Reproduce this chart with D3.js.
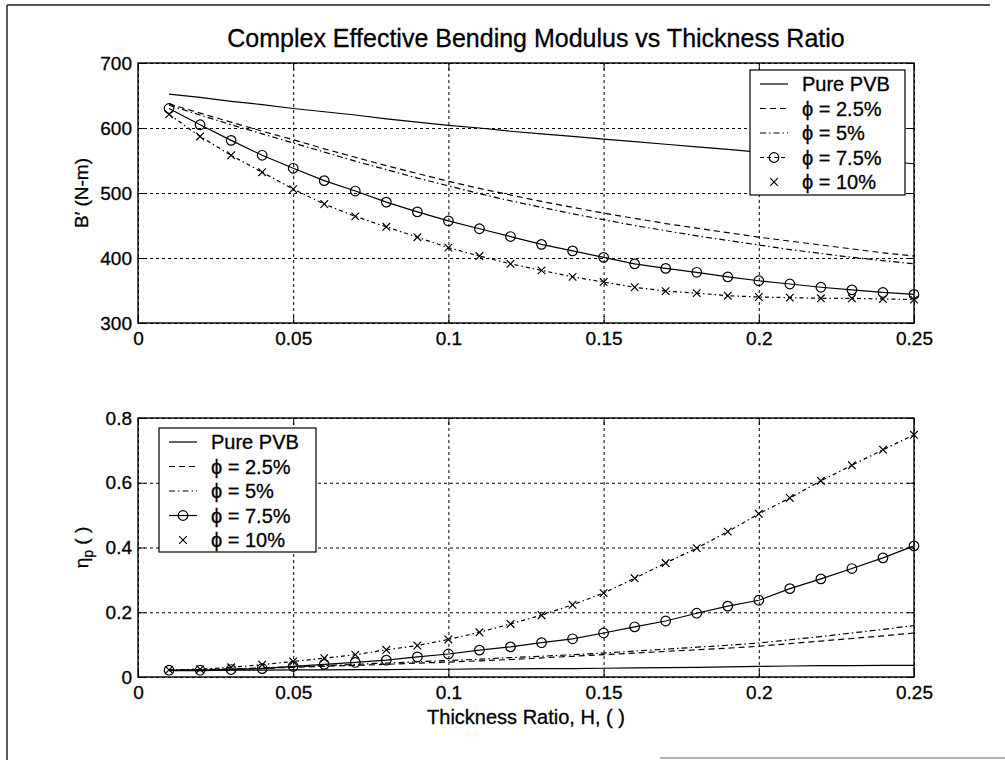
<!DOCTYPE html>
<html><head><meta charset="utf-8">
<script src="https://cdn.jsdelivr.net/npm/d3@7"></script>
<style>
html,body{margin:0;padding:0;background:#fff;}
svg text{font-family:"Liberation Sans",Arial,Helvetica,sans-serif;fill:#000;stroke:#000;stroke-width:0.3px;}
</style></head>
<body>
<svg id="chart" width="1005" height="760"></svg>
<script>
// ---------------- data ----------------
const thickness = [0.01,0.02,0.03,0.04,0.05,0.06,0.07,0.08,0.09,0.10,0.11,0.12,0.13,0.14,0.15,0.16,0.17,0.18,0.19,0.20,0.21,0.22,0.23,0.24,0.25];
const seriesNames = ["Pure PVB","ϕ = 2.5%","ϕ = 5%","ϕ = 7.5%","ϕ = 10%"];

// B' (N-m)
const bPure  = [652,647,641,636,630,625,620,614,609,604,600,595,591,587,583,579,575,571,567,563,559,556,552,549,545];
const bPhi25 = [637,623,609,595,582,568,555,542,530,518,507,497,487,478,469,461,453,446,439,432,426,420,414,408,403];
const bPhi5  = [635,620,605,591,577,563,549,536,523,511,499,488,478,468,459,450,442,434,427,420,413,407,401,396,391];
const bPhi75 = [630,605,581,558,538,519,503,486,471,457,445,433,421,411,401,391,384,378,371,365,360,355,351,347,344];
const bPhi10 = [621,587,558,532,506,483,464,448,432,416,403,391,381,371,363,355,349,346,342,340,339,338,338,337,336];

// eta_p ( )
const ePure  = [0.020,0.020,0.021,0.021,0.022,0.022,0.023,0.023,0.024,0.024,0.025,0.025,0.026,0.026,0.027,0.028,0.029,0.030,0.031,0.033,0.034,0.035,0.035,0.036,0.036];
const ePhi25 = [0.020,0.022,0.024,0.027,0.030,0.033,0.036,0.039,0.043,0.046,0.050,0.054,0.059,0.064,0.069,0.074,0.079,0.084,0.089,0.095,0.103,0.111,0.119,0.127,0.136];
const ePhi5  = [0.020,0.023,0.025,0.028,0.032,0.035,0.039,0.043,0.047,0.051,0.055,0.060,0.064,0.069,0.074,0.080,0.086,0.092,0.098,0.105,0.115,0.125,0.136,0.147,0.159];
const ePhi75 = [0.021,0.021,0.023,0.026,0.033,0.039,0.045,0.052,0.062,0.071,0.083,0.093,0.106,0.118,0.136,0.155,0.173,0.197,0.219,0.237,0.273,0.303,0.335,0.368,0.405];
const ePhi10 = [0.022,0.024,0.030,0.038,0.048,0.058,0.069,0.084,0.097,0.116,0.138,0.164,0.191,0.223,0.259,0.305,0.352,0.398,0.449,0.504,0.553,0.606,0.654,0.702,0.748];

const xTicks = [0,0.05,0.1,0.15,0.2,0.25];
const xTickLabels = ["0","0.05","0.1","0.15","0.2","0.25"];
const yTopTicks = [300,400,500,600,700];
const yBotTicks = [0,0.2,0.4,0.6,0.8];
const yBotTickLabels = ["0","0.2","0.4","0.6","0.8"];

// ---------------- drawing ----------------
const svg = d3.select("#chart");
const L = 138, R = 914;
const topBox = {t:63, b:323};
const botBox = {t:418, b:677};

// scanned page frame
svg.append("line").attr("x1",7).attr("x2",990).attr("y1",5).attr("y2",5).attr("stroke","#222").attr("stroke-width",1.5);
svg.append("line").attr("x1",7).attr("x2",7).attr("y1",5).attr("y2",760).attr("stroke","#222").attr("stroke-width",1.5);
svg.append("line").attr("x1",660).attr("x2",1005).attr("y1",758).attr("y2",758).attr("stroke","#999").attr("stroke-width",1.5);

const styles = [
  {dash:null, marker:null},
  {dash:"6,4", marker:null},
  {dash:"6,3,1.5,3", marker:null},
  {dash:null, marker:"circle"},
  {dash:"4,3,1.5,3", marker:"x"}
];

function drawMarker(g, type, x, y){
  if(type==="circle"){
    g.append("circle").attr("cx",x).attr("cy",y).attr("r",4.8).attr("fill","none").attr("stroke","#000").attr("stroke-width",1.2);
  } else if(type==="x"){
    const s=3.8;
    g.append("path").attr("d",`M${x-s},${y-s}L${x+s},${y+s}M${x-s},${y+s}L${x+s},${y-s}`).attr("stroke","#000").attr("stroke-width",1.2);
  }
}

function panel(box, yScaleDomain, yTicks, yTickFmt, data, legendCfg){
  const x = d3.scaleLinear().domain([0,0.25]).range([L,R]);
  const y = d3.scaleLinear().domain(yScaleDomain).range([box.b, box.t]);
  const W = R-L, H = box.b-box.t;
  const g = svg.append("g");

  // grid
  g.append("g").attr("transform",`translate(0,${box.b})`)
    .call(d3.axisBottom(x).tickValues(xTicks).tickSize(-H).tickFormat(""))
    .call(a=>{a.select(".domain").remove(); a.selectAll("line").attr("stroke","#000").attr("stroke-dasharray","3,3").attr("stroke-width",1);});
  g.append("g").attr("transform",`translate(${L},0)`)
    .call(d3.axisLeft(y).tickValues(yTicks).tickSize(-W).tickFormat(""))
    .call(a=>{a.select(".domain").remove(); a.selectAll("line").attr("stroke","#000").attr("stroke-dasharray","3,3").attr("stroke-width",1);});

  // series
  const line = d3.line().x((d,i)=>x(thickness[i])).y(d=>y(d));
  data.forEach((arr,k)=>{
    const st = styles[k];
    const p = g.append("path").datum(arr).attr("d",line).attr("fill","none").attr("stroke","#000").attr("stroke-width",1.2);
    if(st.dash) p.attr("stroke-dasharray",st.dash);
    if(st.marker){ arr.forEach((v,i)=>drawMarker(g, st.marker, x(thickness[i]), y(v))); }
  });

  // frame
  g.append("rect").attr("x",L).attr("y",box.t).attr("width",W).attr("height",H).attr("fill","none").attr("stroke","#000").attr("stroke-width",1.4);

  // axes (ticks inside)
  const ax = g.append("g").attr("transform",`translate(0,${box.b})`)
    .call(d3.axisBottom(x).tickValues(xTicks).tickSizeInner(-7).tickSizeOuter(0).tickPadding(9).tickFormat((d,i)=>xTickLabels[i]));
  ax.select(".domain").remove();
  ax.selectAll("text").attr("font-size",19).attr("dy","0.71em");
  const axT = g.append("g").attr("transform",`translate(0,${box.t})`)
    .call(d3.axisTop(x).tickValues(xTicks).tickSizeInner(-7).tickSizeOuter(0).tickFormat(""));
  axT.select(".domain").remove();
  const ay = g.append("g").attr("transform",`translate(${L},0)`)
    .call(d3.axisLeft(y).tickValues(yTicks).tickSizeInner(-7).tickSizeOuter(0).tickPadding(6).tickFormat(yTickFmt));
  ay.select(".domain").remove();
  ay.selectAll("text").attr("font-size",19);
  const ayR = g.append("g").attr("transform",`translate(${R},0)`)
    .call(d3.axisRight(y).tickValues(yTicks).tickSizeInner(-7).tickSizeOuter(0).tickFormat(""));
  ayR.select(".domain").remove();
  g.selectAll(".tick line").filter(function(){return !this.getAttribute("stroke-dasharray");}).attr("stroke","#000");

  // legend
  const lg = g.append("g");
  lg.append("rect").attr("x",legendCfg.x0).attr("y",legendCfg.y0).attr("width",legendCfg.w).attr("height",legendCfg.h)
    .attr("fill","#fff").attr("stroke","#000").attr("stroke-width",1.2);
  seriesNames.forEach((name,k)=>{
    const yy = legendCfg.y0 + 14 + k*24.5;
    const st = styles[k];
    const lx1 = legendCfg.x0+10, lx2 = legendCfg.x0+38;
    if(k===3){
      const p = lg.append("line").attr("x1",lx1).attr("x2",lx2).attr("y1",yy).attr("y2",yy).attr("stroke","#000").attr("stroke-width",1.2);
      if(legendCfg.dashedCircle) p.attr("stroke-dasharray","4,3");
      drawMarker(lg,"circle",(lx1+lx2)/2,yy);
    } else if(k===4){
      drawMarker(lg,"x",(lx1+lx2)/2,yy);
    } else {
      const p = lg.append("line").attr("x1",lx1).attr("x2",lx2).attr("y1",yy).attr("y2",yy).attr("stroke","#000").attr("stroke-width",1.2);
      if(st.dash) p.attr("stroke-dasharray",st.dash);
    }
    lg.append("text").attr("x",legendCfg.x0+52).attr("y",yy).attr("dy","0.36em").attr("font-size",20).text(name);
  });
  return {x,y};
}

panel(topBox,[300,700],yTopTicks,d=>String(d),[bPure,bPhi25,bPhi5,bPhi75,bPhi10],
      {x0:750,y0:70,w:155,h:125,dashedCircle:true});
panel(botBox,[0,0.8],yBotTicks,(d,i)=>yBotTickLabels[i],[ePure,ePhi25,ePhi5,ePhi75,ePhi10],
      {x0:159,y0:428,w:157,h:124,dashedCircle:false});

// titles & labels
svg.append("text").attr("x",536).attr("y",47).attr("text-anchor","middle").attr("font-size",25)
  .text("Complex Effective Bending Modulus vs Thickness Ratio");
svg.append("text").attr("transform",`translate(88,${(topBox.t+topBox.b)/2}) rotate(-90)`).attr("text-anchor","middle").attr("font-size",19)
  .text("B′ (N-m)");
const yl = svg.append("text").attr("transform",`translate(88,${(botBox.t+botBox.b)/2}) rotate(-90)`).attr("text-anchor","middle").attr("font-size",19);
yl.append("tspan").text("η");
yl.append("tspan").attr("font-size",14).attr("dy",5).text("p");
yl.append("tspan").attr("dy",-5).text(" ( )");
svg.append("text").attr("x",(L+R)/2).attr("y",724).attr("text-anchor","middle").attr("font-size",20)
  .text("Thickness Ratio, H, ( )");
</script>
</body></html>
